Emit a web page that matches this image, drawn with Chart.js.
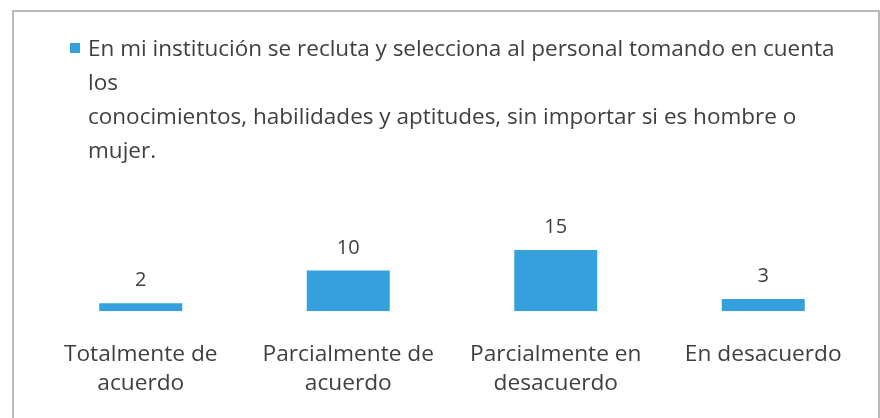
<!DOCTYPE html>
<html>
<head>
<meta charset="utf-8">
<script src="https://cdn.jsdelivr.net/npm/chart.js@4"></script>
<style>
    body { margin: 0; background: #ffffff; }
    #wrap { width: 880px; height: 418px; position: relative; }
</style>
</head>
<body>
<div id="wrap"><canvas id="grafico"></canvas></div>
<script>
// categorias del eje x (dos lineas cada una)
const categorias = [
    ["Totalmente de", "acuerdo"],
    ["Parcialmente de", "acuerdo"],
    ["Parcialmente en", "desacuerdo"],
    ["En desacuerdo"]
];
const valores = [2, 10, 15, 3];

// texto de la leyenda, tal como aparece partido en el original
const leyenda = [
    "En mi institución se recluta y selecciona al personal tomando en cuenta",
    "los",
    "conocimientos, habilidades y aptitudes, sin importar si es hombre o",
    "mujer."
];

const azul = "#35a0dc";
const gris = "#404040";
const fuente = "'Open Sans', 'Noto Sans', sans-serif";

// marco gris alrededor del grafico
const marco = {
    id: "marco",
    beforeDraw(chart) {
        const ctx = chart.ctx;
        ctx.save();
        ctx.strokeStyle = "#a3a3a3";
        ctx.lineWidth = 1.5;
        ctx.strokeRect(13, 11, 866, 420);
        ctx.restore();
    }
};

// leyenda en varias lineas (la de Chart.js no parte el texto)
const leyendaMultilinea = {
    id: "leyendaMultilinea",
    afterDraw(chart) {
        const ctx = chart.ctx;
        ctx.save();
        ctx.fillStyle = azul;
        ctx.fillRect(70, 43, 10, 10);
        ctx.fillStyle = gris;
        ctx.font = "22.5px " + fuente;
        ctx.textBaseline = "alphabetic";
        ctx.textAlign = "left";
        for (let i = 0; i < leyenda.length; i++) {
            ctx.fillText(leyenda[i], 88, 56 + i * 34);
        }
        ctx.restore();
    }
};

// numeros encima de cada barra
const etiquetasValor = {
    id: "etiquetasValor",
    afterDatasetsDraw(chart) {
        const ctx = chart.ctx;
        const meta = chart.getDatasetMeta(0);
        ctx.save();
        ctx.fillStyle = gris;
        ctx.font = "20px " + fuente;
        ctx.textAlign = "center";
        ctx.textBaseline = "alphabetic";
        meta.data.forEach((barra, i) => {
            ctx.fillText(String(valores[i]), barra.x, barra.y - 17);
        });
        ctx.restore();
    }
};

const config = {
    type: "bar",
    data: {
        labels: categorias,
        datasets: [{
            label: leyenda.join(" "),
            data: valores,
            backgroundColor: azul,
            borderWidth: 0,
            categoryPercentage: 1,
            barPercentage: 0.4
        }]
    },
    options: {
        responsive: false,
        animation: false,
        layout: { padding: { top: 148, bottom: -9, left: 37, right: 13 } },
        plugins: {
            legend: { display: false },
            tooltip: { enabled: false }
        },
        scales: {
            x: {
                grid: { display: false, drawTicks: false },
                border: { display: false },
                ticks: {
                    color: gris,
                    padding: 29,
                    maxRotation: 0,
                    autoSkip: false,
                    font: { family: fuente, size: 22.7, lineHeight: 1.27 }
                }
            },
            y: {
                display: false,
                min: 0,
                max: 40
            }
        }
    },
    plugins: [marco, leyendaMultilinea, etiquetasValor]
};

const canvas = document.getElementById("grafico");
canvas.width = 880;
canvas.height = 418;
const grafico = new Chart(canvas, config);
</script>
</body>
</html>
